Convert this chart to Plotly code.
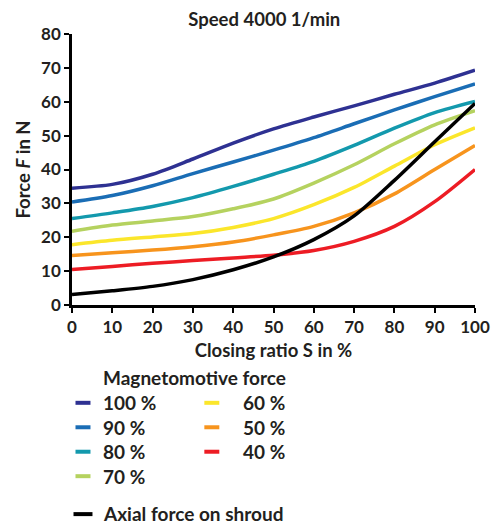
import plotly.graph_objects as go

closing_ratio = [0, 10, 20, 30, 40, 50, 60, 70, 80, 90, 100]

mmf_100 = [34.5, 35.6, 38.6, 43.1, 47.8, 52.0, 55.5, 58.8, 62.2, 65.5, 69.3]
mmf_90 = [30.4, 32.3, 35.2, 38.8, 42.2, 45.7, 49.4, 53.5, 57.6, 61.5, 65.3]
mmf_80 = [25.5, 27.2, 29.1, 31.7, 35.0, 38.6, 42.4, 47.1, 52.2, 56.8, 60.1]
mmf_70 = [21.8, 23.6, 24.8, 26.1, 28.4, 31.3, 36.0, 41.4, 47.6, 53.2, 57.4]
mmf_60 = [17.8, 19.1, 20.1, 21.1, 22.9, 25.5, 29.6, 34.7, 41.0, 47.3, 52.3]
mmf_50 = [14.6, 15.4, 16.2, 17.2, 18.6, 20.7, 23.2, 27.2, 32.8, 40.0, 47.1]
mmf_40 = [10.5, 11.4, 12.3, 13.1, 13.9, 14.7, 16.1, 18.8, 23.2, 30.5, 40.0]
axial_force = [3.1, 4.2, 5.5, 7.5, 10.4, 14.2, 19.3, 26.3, 36.8, 48.2, 59.5]

series = [
    ("100 %", mmf_100, "#2e3192"),
    ("90 %", mmf_90, "#1a6db5"),
    ("80 %", mmf_80, "#1399ad"),
    ("70 %", mmf_70, "#b5d25f"),
    ("60 %", mmf_60, "#fbe62b"),
    ("50 %", mmf_50, "#f7941d"),
    ("40 %", mmf_40, "#ed1c24"),
]
axial_name = "Axial force on shroud"
legend_title = "Magnetomotive force"

FONT = "Lato"
TXT = "#231f20"
W, H = 491, 525
L, R, T, B = 71.5, 16, 34, 219.5
PW = W - L - R
PH = H - T - B


def pxx(px):
    return (px - L) / PW


def pxy(py):
    return (H - B - py) / PH


fig = go.Figure()
for name, vals, col in series:
    fig.add_trace(go.Scatter(
        x=closing_ratio, y=vals, name=name, mode="lines",
        line=dict(color=col, width=3.5, shape="spline", smoothing=0.8),
        showlegend=False,
    ))
fig.add_trace(go.Scatter(
    x=closing_ratio, y=axial_force, name=axial_name, mode="lines",
    line=dict(color="#000000", width=3.5, shape="spline", smoothing=0.8),
    showlegend=False,
))

# Legend drawn as short thick swatches + text (two columns, like the original)
shapes = []
annotations = [dict(
    text=f"<b>{legend_title}</b>", xref="paper", yref="paper",
    x=pxx(101), y=pxy(378), xanchor="left", yanchor="middle",
    showarrow=False, font=dict(size=19, family=FONT, color=TXT),
)]
row_y = [403.5, 428, 452.5, 477]
cols = [(75, 90, 101), (204, 219, 241)]
for i, (name, vals, col) in enumerate(series):
    c = 0 if i < 4 else 1
    r = i if i < 4 else i - 4
    x0, x1, xt = cols[c]
    y = row_y[r]
    shapes.append(dict(type="line", xref="paper", yref="paper",
                       x0=pxx(x0), x1=pxx(x1), y0=pxy(y), y1=pxy(y),
                       line=dict(color=col, width=4)))
    annotations.append(dict(text=f"<b>{name}</b>", xref="paper", yref="paper",
                            x=pxx(xt), y=pxy(y), xanchor="left", yanchor="middle",
                            showarrow=False, font=dict(size=19, family=FONT, color=TXT)))
shapes.append(dict(type="line", xref="paper", yref="paper",
                   x0=pxx(73), x1=pxx(92), y0=pxy(515), y1=pxy(515),
                   line=dict(color="#000000", width=4)))
annotations.append(dict(text=f"<b>{axial_name}</b>", xref="paper", yref="paper",
                        x=pxx(101), y=pxy(514), xanchor="left", yanchor="middle",
                        showarrow=False, font=dict(size=19, family=FONT, color=TXT)))

y_ticks = [0, 10, 20, 30, 40, 50, 60, 70, 80]

fig.update_layout(
    width=W, height=H,
    margin=dict(l=L, r=R, t=T, b=B, autoexpand=False),
    paper_bgcolor="white", plot_bgcolor="white",
    font=dict(family=FONT, color=TXT, size=17),
    showlegend=False,
    title=dict(text="<b>Speed 4000 1/min</b>", x=pxx(264), xref="paper", xanchor="center",
               y=1 - 20 / H, yref="container", yanchor="middle",
               font=dict(size=18.5, family=FONT, color=TXT)),
    xaxis=dict(
        range=[0, 100], tickmode="array", tickvals=closing_ratio,
        ticktext=[f"<b>{v}</b>" for v in closing_ratio],
        showgrid=False, zeroline=False, showline=True, linecolor="black", linewidth=2.5,
        ticks="outside", ticklen=5, tickwidth=2, tickcolor="black", automargin=False,
        tickfont=dict(size=17, family=FONT, color=TXT),
        title=dict(text="<b>Closing ratio S in %</b>", font=dict(size=18.5, family=FONT, color=TXT), standoff=8),
    ),
    yaxis=dict(
        range=[0, 80], tickmode="array", tickvals=y_ticks,
        ticktext=[f"<b>{v}</b>" for v in y_ticks],
        showgrid=False, zeroline=False, showline=True, linecolor="black", linewidth=2.5,
        ticks="outside", ticklen=5, tickwidth=2, tickcolor="black", automargin=False,
        tickfont=dict(size=17, family=FONT, color=TXT),
        title=dict(text="<b>Force <i>F</i> in N</b>", font=dict(size=18.5, family=FONT, color=TXT), standoff=6),
    ),
    shapes=shapes,
    annotations=annotations,
)

fig.write_html("out.html")
